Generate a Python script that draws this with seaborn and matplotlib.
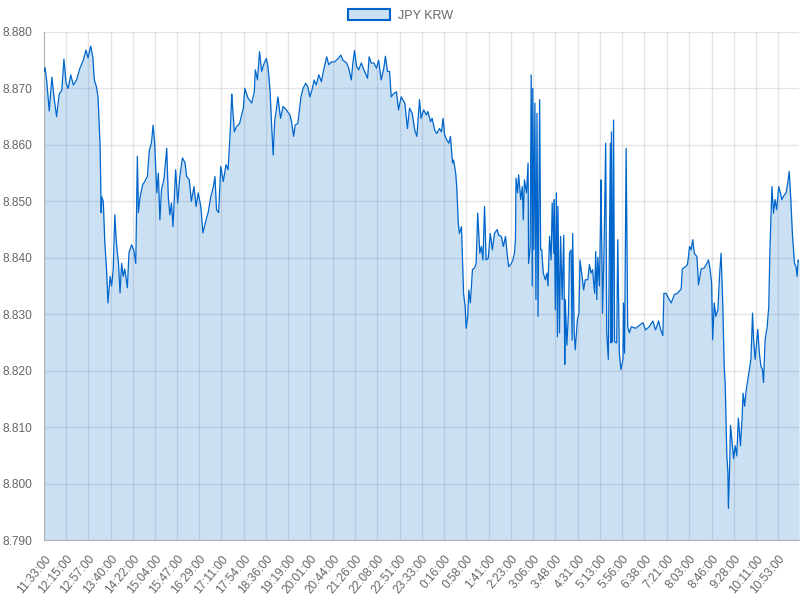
import numpy as np
import pandas as pd
import seaborn as sns
import matplotlib.pyplot as plt
from matplotlib.patches import Patch

# minutes elapsed since 11:33:00
minutes = [
    0, 2, 5, 10, 15, 19, 24, 29, 34, 38, 42, 46, 51, 56, 62, 69, 75, 80, 84, 89,
    93, 96, 100, 103, 107, 109, 110, 113, 116, 119, 122, 126, 129, 132, 135, 138,
    142, 145, 148, 151, 154, 159, 162, 167, 171, 175, 178, 180, 183, 188, 192, 197,
    201, 205, 208, 211, 215, 218, 221, 224, 229, 234, 237, 240, 243, 246, 251, 255,
    259, 264, 269, 272, 277, 281, 286, 290, 294, 299, 303, 309, 313, 318, 323, 326,
    329, 333, 337, 342, 347, 351, 355, 358, 359, 363, 367, 373, 380, 383, 389, 396,
    401, 403, 407, 411, 415, 420, 424, 427, 431, 434, 437, 440, 443, 446, 451, 456,
    462, 469, 472, 476, 479, 484, 490, 494, 499, 503, 507, 511, 515, 519, 524, 529,
    532, 539, 543, 548, 554, 561, 566, 570, 577, 581, 586, 589, 592, 596, 600, 605,
    610, 617, 620, 624, 629, 634, 638, 643, 648, 651, 655, 659, 662, 667, 672, 676,
    681, 688, 693, 697, 702, 707, 711, 716, 719, 724, 729, 732, 737, 740, 745, 749,
    754, 758, 761, 764, 768, 772, 775, 779, 781, 785, 787, 790, 792, 796, 798, 800,
    803, 805, 808, 810, 813, 817, 821, 824, 827, 831, 834, 837, 840, 843, 847, 851,
    855, 859, 864, 867, 872, 876, 880, 883, 886, 891, 894, 897, 899, 900, 903, 905,
    909, 912, 914, 916, 920, 923, 924, 927, 929, 931, 932, 934, 936, 938, 940, 942,
    945, 947, 949, 952, 956, 959, 961, 964, 967, 969, 972, 973, 975, 977, 979, 980,
    983, 985, 988, 991, 993, 994, 997, 1000, 1002, 1005, 1007, 1008, 1011, 1013,
    1017, 1020, 1022, 1026, 1029, 1032, 1037, 1040, 1043, 1046, 1050, 1052, 1054,
    1056, 1059, 1061, 1062, 1065, 1068, 1071, 1073, 1076, 1080, 1081, 1082, 1084,
    1086, 1088, 1092, 1094, 1097, 1100, 1104, 1105, 1107, 1110, 1113, 1116, 1120,
    1128, 1135, 1142, 1147, 1154, 1161, 1166, 1172, 1175, 1180, 1182, 1186, 1191,
    1196, 1202, 1208, 1215, 1217, 1223, 1227, 1231, 1234, 1237, 1240, 1245, 1248,
    1253, 1259, 1264, 1267, 1270, 1273, 1275, 1278, 1281, 1285, 1288, 1291, 1294,
    1297, 1299, 1302, 1304, 1305, 1307, 1309, 1312, 1315, 1318, 1321, 1324, 1328,
    1331, 1333, 1336, 1339, 1342, 1345, 1348, 1351, 1353, 1356, 1361, 1364, 1367,
    1370, 1372, 1375, 1379, 1382, 1384, 1388, 1391, 1394, 1397, 1401, 1404, 1407,
    1410, 1415, 1418, 1421, 1424, 1427, 1431, 1434, 1436, 1438, 1440,
]

rate = [
    8.8730, 8.8737, 8.8715, 8.8660, 8.8720, 8.8685, 8.8650, 8.8690, 8.8697, 8.8752,
    8.8710, 8.8700, 8.8724, 8.8706, 8.8715, 8.8737, 8.8750, 8.8768, 8.8754, 8.8775,
    8.8756, 8.8715, 8.8703, 8.8685, 8.8597, 8.8480, 8.8508, 8.8500, 8.8426, 8.8384,
    8.8320, 8.8367, 8.8350, 8.8380, 8.8476, 8.8427, 8.8390, 8.8338, 8.8390, 8.8367,
    8.8380, 8.8347, 8.8409, 8.8423, 8.8414, 8.8390, 8.8580, 8.8480, 8.8506, 8.8529,
    8.8535, 8.8544, 8.8591, 8.8604, 8.8635, 8.8604, 8.8515, 8.8550, 8.8467, 8.8520,
    8.8541, 8.8594, 8.8508, 8.8476, 8.8497, 8.8455, 8.8556, 8.8497, 8.8544, 8.8577,
    8.8568, 8.8544, 8.8538, 8.8500, 8.8526, 8.8491, 8.8515, 8.8491, 8.8444, 8.8467,
    8.8480, 8.8508, 8.8526, 8.8544, 8.8485, 8.8480, 8.8562, 8.8535, 8.8565, 8.8556,
    8.8621, 8.8690, 8.8674, 8.8623, 8.8632, 8.8638, 8.8665, 8.8700, 8.8683, 8.8674,
    8.8694, 8.8733, 8.8715, 8.8765, 8.8730, 8.8745, 8.8753, 8.8739, 8.8697, 8.8635,
    8.8582, 8.8644, 8.8662, 8.8685, 8.8647, 8.8668, 8.8662, 8.8653, 8.8641, 8.8615,
    8.8635, 8.8638, 8.8685, 8.8700, 8.8709, 8.8703, 8.8685, 8.8697, 8.8715, 8.8706,
    8.8724, 8.8712, 8.8727, 8.8756, 8.8742, 8.8747, 8.8747, 8.8753, 8.8759, 8.8750,
    8.8745, 8.8736, 8.8715, 8.8745, 8.8767, 8.8739, 8.8733, 8.8745, 8.8733, 8.8718,
    8.8756, 8.8745, 8.8745, 8.8736, 8.8750, 8.8715, 8.8736, 8.8757, 8.8730, 8.8730,
    8.8685, 8.8691, 8.8694, 8.8662, 8.8685, 8.8674, 8.8629, 8.8665, 8.8656, 8.8626,
    8.8615, 8.8680, 8.8647, 8.8662, 8.8653, 8.8659, 8.8641, 8.8647, 8.8626, 8.8620,
    8.8629, 8.8623, 8.8647, 8.8617, 8.8609, 8.8603, 8.8615, 8.8568, 8.8573, 8.8550,
    8.8526, 8.8461, 8.8443, 8.8455, 8.8396, 8.8337, 8.8314, 8.8275, 8.8296, 8.8343,
    8.8320, 8.8379, 8.8382, 8.8390, 8.8479, 8.8408, 8.8420, 8.8396, 8.8491, 8.8396,
    8.8399, 8.8443, 8.8414, 8.8443, 8.8450, 8.8440, 8.8438, 8.8420, 8.8438, 8.8408,
    8.8384, 8.8390, 8.8396, 8.8408, 8.8432, 8.8541, 8.8515, 8.8547, 8.8503, 8.8526,
    8.8467, 8.8538, 8.8515, 8.8568, 8.8390, 8.8420, 8.8724, 8.8350, 8.8700, 8.8414,
    8.8674, 8.8326, 8.8656, 8.8296, 8.8680, 8.8414, 8.8414, 8.8373, 8.8361, 8.8373,
    8.8350, 8.8438, 8.8396, 8.8497, 8.8408, 8.8503, 8.8308, 8.8515, 8.8260, 8.8491,
    8.8267, 8.8438, 8.8326, 8.8440, 8.8211, 8.8326, 8.8245, 8.8302, 8.8408, 8.8414,
    8.8254, 8.8443, 8.8267, 8.8237, 8.8290, 8.8302, 8.8396, 8.8367, 8.8343, 8.8361,
    8.8361, 8.8388, 8.8373, 8.8379, 8.8337, 8.8411, 8.8326, 8.8401, 8.8350, 8.8455,
    8.8538, 8.8302, 8.8420, 8.8603, 8.8267, 8.8220, 8.8603, 8.8249, 8.8623, 8.8251,
    8.8644, 8.8251, 8.8249, 8.8432, 8.8231, 8.8202, 8.8220, 8.8320, 8.8231, 8.8594,
    8.8278, 8.8267, 8.8278, 8.8275, 8.8280, 8.8285, 8.8272, 8.8278, 8.8288, 8.8272,
    8.8288, 8.8275, 8.8262, 8.8337, 8.8337, 8.8328, 8.8320, 8.8335, 8.8337, 8.8345,
    8.8380, 8.8384, 8.8388, 8.8420, 8.8414, 8.8432, 8.8408, 8.8402, 8.8352, 8.8380,
    8.8382, 8.8390, 8.8396, 8.8380, 8.8355, 8.8255, 8.8320, 8.8296, 8.8308, 8.8367,
    8.8408, 8.8326, 8.8208, 8.8173, 8.8049, 8.8021, 8.7956, 8.8016, 8.8103, 8.8074,
    8.8044, 8.8067, 8.8049, 8.8116, 8.8067, 8.8113, 8.8160, 8.8137, 8.8166, 8.8184,
    8.8202, 8.8220, 8.8302, 8.8255, 8.8220, 8.8273, 8.8231, 8.8208, 8.8202, 8.8179,
    8.8255, 8.8278, 8.8314, 8.8408, 8.8526, 8.8479, 8.8503, 8.8485, 8.8526, 8.8515,
    8.8503, 8.8509, 8.8515, 8.8532, 8.8553, 8.8503, 8.8443, 8.8390, 8.8384, 8.8367,
    8.8396, 8.8393,
]

tick_labels = [
    "11:33:00", "12:15:00", "12:57:00", "13:40:00", "14:22:00", "15:04:00",
    "15:47:00", "16:29:00", "17:11:00", "17:54:00", "18:36:00", "19:19:00",
    "20:01:00", "20:44:00", "21:26:00", "22:08:00", "22:51:00", "23:33:00",
    "0:16:00", "0:58:00", "1:41:00", "2:23:00", "3:06:00", "3:48:00",
    "4:31:00", "5:13:00", "5:56:00", "6:38:00", "7:21:00", "8:03:00",
    "8:46:00", "9:28:00", "10:11:00", "10:53:00",
]

line_color = "#0066cc"
sns.set_style("white")
plt.rcParams["font.family"] = ["Liberation Sans", "DejaVu Sans"]

df = pd.DataFrame({"minute": minutes, "rate": rate})


def to_offset(label):
    h, m, _ = (int(p) for p in label.split(":"))
    return (h * 60 + m - (11 * 60 + 33)) % 1440


tick_pos = [to_offset(t) for t in tick_labels]

fig = plt.figure(figsize=(8, 6), dpi=100)
ax = fig.add_axes([0.055, 0.1, 0.944, 0.8467])

ax.fill_between(df["minute"], df["rate"], 8.790, color=line_color, alpha=0.2,
                linewidth=0, zorder=2)
sns.lineplot(data=df, x="minute", y="rate", ax=ax, color=line_color,
             linewidth=0.9, estimator=None, sort=False, zorder=3)

ax.set_xlim(0, 1440)
ax.set_ylim(8.790, 8.880)
yticks = np.arange(8.790, 8.8801, 0.010)
ax.set_yticks(yticks)
ax.set_yticklabels([f"{v:.3f}" for v in yticks])
ax.set_xticks(tick_pos)
ax.set_xticklabels(tick_labels, rotation=50, ha="right", rotation_mode="anchor")
ax.set_xlabel("")
ax.set_ylabel("")

ax.grid(True, color="#000000", alpha=0.1, linewidth=1, zorder=1)
ax.set_axisbelow(True)
ax.tick_params(axis="both", labelcolor="#666666", labelsize=8.6, length=6.5,
               width=1, color="#e6e6e6")
ax.tick_params(axis="y", pad=2)
ax.tick_params(axis="x", pad=3)
for side in ["top", "right"]:
    ax.spines[side].set_visible(False)
for side in ["left", "bottom"]:
    ax.spines[side].set_color("#b3b3b3")

fig.legend(handles=[Patch(facecolor=(0, 0.4, 0.8, 0.2), edgecolor=line_color,
                          linewidth=1.5, label="JPY KRW")],
           loc="upper center", bbox_to_anchor=(0.5, 1.0), frameon=False,
           fontsize=9, labelcolor="#666666", handlelength=3.4, handleheight=1.0,
           handletextpad=0.6, borderaxespad=0.3)

fig.savefig("out.png", dpi=100)
